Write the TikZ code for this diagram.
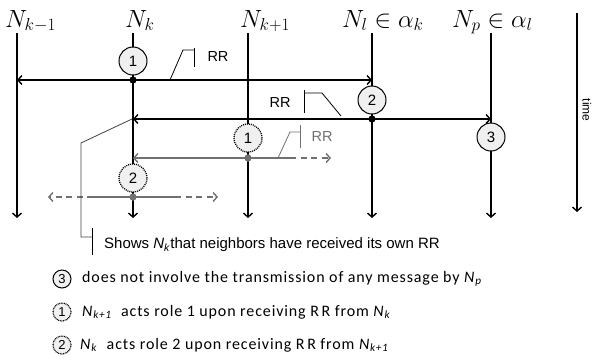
\documentclass[tikz,border=0pt]{standalone}
\usepackage[no-math]{fontspec}
\setmainfont{Liberation Sans}
\newfontfamily\calib{Carlito}[LetterSpace=5.5]
\usetikzlibrary{arrows.meta}
\definecolor{cfill}{RGB}{240,240,240}
\definecolor{gline}{RGB}{112,112,112}
\begin{document}
\begin{tikzpicture}[x=1pt,y=-1pt,
  arr/.style={-{Straight Barb[length=4pt,width=9pt]}},
  vline/.style={line width=1.4pt,arr},
  hline/.style={line width=1.4pt},
  gl/.style={line width=1.4pt,draw=gline},
  gdash/.style={gl,dash pattern=on 6pt off 4.5pt},
  call/.style={line width=0.8pt},
  evt/.style={circle,draw,line width=1pt,fill=cfill,minimum size=28pt,inner sep=0pt,font=\fontsize{15}{15}\selectfont},
  evtd/.style={evt,dash pattern=on 1pt off 1pt,line width=1.3pt},
  dotb/.style={circle,fill=black,minimum size=7pt,inner sep=0pt},
  dotg/.style={circle,fill=gline,minimum size=7pt,inner sep=0pt},
  big/.style={font=\fontsize{25}{30}\selectfont,anchor=base west,inner sep=0pt},
  rr/.style={font=\fontsize{14.5}{16}\selectfont,inner sep=0pt},
  legc/.style={circle,draw,line width=1pt,fill=cfill,minimum size=18pt,inner sep=0pt,font=\fontsize{13}{13}\selectfont},
  legcd/.style={legc,dash pattern=on 0.8pt off 0.8pt,line width=1.2pt},
  leg/.style={font=\calib\fontsize{16}{17}\selectfont,anchor=west,inner sep=0pt}
]
\useasboundingbox (0,0) rectangle (592,360);
% labels
\node[big] (lkm1) at (5,27) {$N_{k-1}$};
\node[big] (lk) at (125,27) {$N_{k}$};
\node[big] (lkp1) at (240,27) {$N_{k+1}$};
\node[big] (ll) at (342,27) {$N_{l}\in\alpha_k$};
\node[big] (lp) at (452,27) {$N_{p}\in\alpha_l$};
% vertical lines
\coordinate (km1t) at (17,33);  \coordinate (km1b) at (17,218);
\coordinate (kt) at (133,33);   \coordinate (kb) at (133,218);
\coordinate (kp1t) at (248,33); \coordinate (kp1b) at (248,218);
\coordinate (lt) at (372,33);   \coordinate (lb) at (372,218);
\coordinate (pt) at (491,33);   \coordinate (pb) at (491,218);
\coordinate (tt) at (577,13);   \coordinate (tb) at (577,212);
\foreach \a/\b in {km1t/km1b,kt/kb,kp1t/kp1b,lt/lb,pt/pb,tt/tb}
  \draw[vline] (\a) -- (\b);
\node[rotate=-90,font=\fontsize{12}{12}\selectfont,inner sep=0pt] (time) at (587,110) {time};
% dots
\node[dotb] (dA) at (133,80) {};
\node[dotb] (dB) at (372,119) {};
\node[dotg] (dC) at (248,158) {};
\node[dotg] (dD) at (133,197) {};
% line A
\coordinate (aL) at (17,80); \coordinate (aR) at (372,80);
\draw[hline,arr] (dA.center) -- (aL);
\draw[hline,arr] (dA.center) -- (aR);
% line B
\coordinate (bL) at (133,119); \coordinate (bR) at (491,119);
\draw[hline,arr] (dB.center) -- (bL);
\draw[hline,arr] (dB.center) -- (bR);
% line C
\coordinate (cL) at (133,158); \coordinate (cM) at (290,158); \coordinate (cR) at (331,158);
\draw[gl,arr] (dC.center) -- (cL);
\draw[gl] (dC.center) -- (cM);
\draw[gdash,arr] (cM) -- (cR);
% line D
\coordinate (dLm) at (93,197); \coordinate (dL) at (48,197);
\coordinate (dRm) at (175,197); \coordinate (dR) at (218,197);
\draw[gl] (dD.center) -- (dLm);
\draw[gdash,arr] (dLm) -- (dL);
\draw[gl] (dD.center) -- (dRm);
\draw[gdash,arr] (dRm) -- (dR);
% redraw dots on top
\node[dotb] at (dA) {};
\node[dotb] at (dB) {};
\node[dotg] at (dC) {};
\node[dotg] at (dD) {};
% event circles
\node[evt] (c1) at (133,61) {1};
\node[evt] (c2) at (372,100) {2};
\node[evt] (c3) at (491,137) {3};
\node[evtd] (e1) at (248,138) {1};
\node[evtd] (e2) at (133,178) {2};
% RR callouts
\coordinate (r1a) at (170,80); \coordinate (r1b) at (183,50); \coordinate (r1c) at (194,50);
\coordinate (r1t) at (194,48); \coordinate (r1u) at (194,67);
\draw[call] (r1a) -- (r1b) -- (r1c);
\draw[call] (r1t) -- (r1u);
\node[rr] (rr1) at (218,57) {RR};
\coordinate (r2a) at (341,116); \coordinate (r2b) at (322,93); \coordinate (r2c) at (304,93);
\coordinate (r2t) at (304,90); \coordinate (r2u) at (304,113);
\draw[call] (r2a) -- (r2b) -- (r2c);
\draw[call] (r2t) -- (r2u);
\node[rr] (rr2) at (280,103) {RR};
\coordinate (r3a) at (278,158); \coordinate (r3b) at (290,132); \coordinate (r3c) at (300,132);
\coordinate (r3t) at (300,125); \coordinate (r3u) at (300,148);
\draw[call,draw=gline] (r3a) -- (r3b) -- (r3c);
\draw[call,draw=gline] (r3t) -- (r3u);
\node[rr,text=gline] (rr3) at (322,137) {RR};
% Shows callout
\coordinate (s0) at (132,119); \coordinate (s1) at (81,143); \coordinate (s2) at (81,237); \coordinate (s3) at (92,237);
\coordinate (s4) at (92,228); \coordinate (s5) at (92,255);
\draw[call,draw=black!75] (s0) -- (s1) -- (s2) -- (s3);
\draw[call] (s4) -- (s5);
\node[font=\fontsize{15}{16}\selectfont,anchor=west,inner sep=0pt] (shows) at (104,245)
  {Shows \textit{N}\textsubscript{\textit{k}}that neighbors have received its own RR};
% legend
\node[legc] (g3) at (62,279) {3};
\node[legcd] (g1) at (62,312) {1};
\node[legcd] (g2) at (62,345) {2};
\node[leg] (t3) at (82,279) {does not involve the transmission of any message by \textit{N}\textsubscript{\textit{p}}};
\node[leg] (t1) at (82,312) {\textit{N}\textsubscript{\textit{k+1}}\ \ acts role 1 upon receiving R\,R from \textit{N}\textsubscript{\textit{k}}};
\node[leg] (t2) at (80,345) {\textit{N}\textsubscript{\textit{k}}\ \ acts role 2 upon receiving R\,R from \textit{N}\textsubscript{\textit{k+1}}};
\end{tikzpicture}
\end{document}
